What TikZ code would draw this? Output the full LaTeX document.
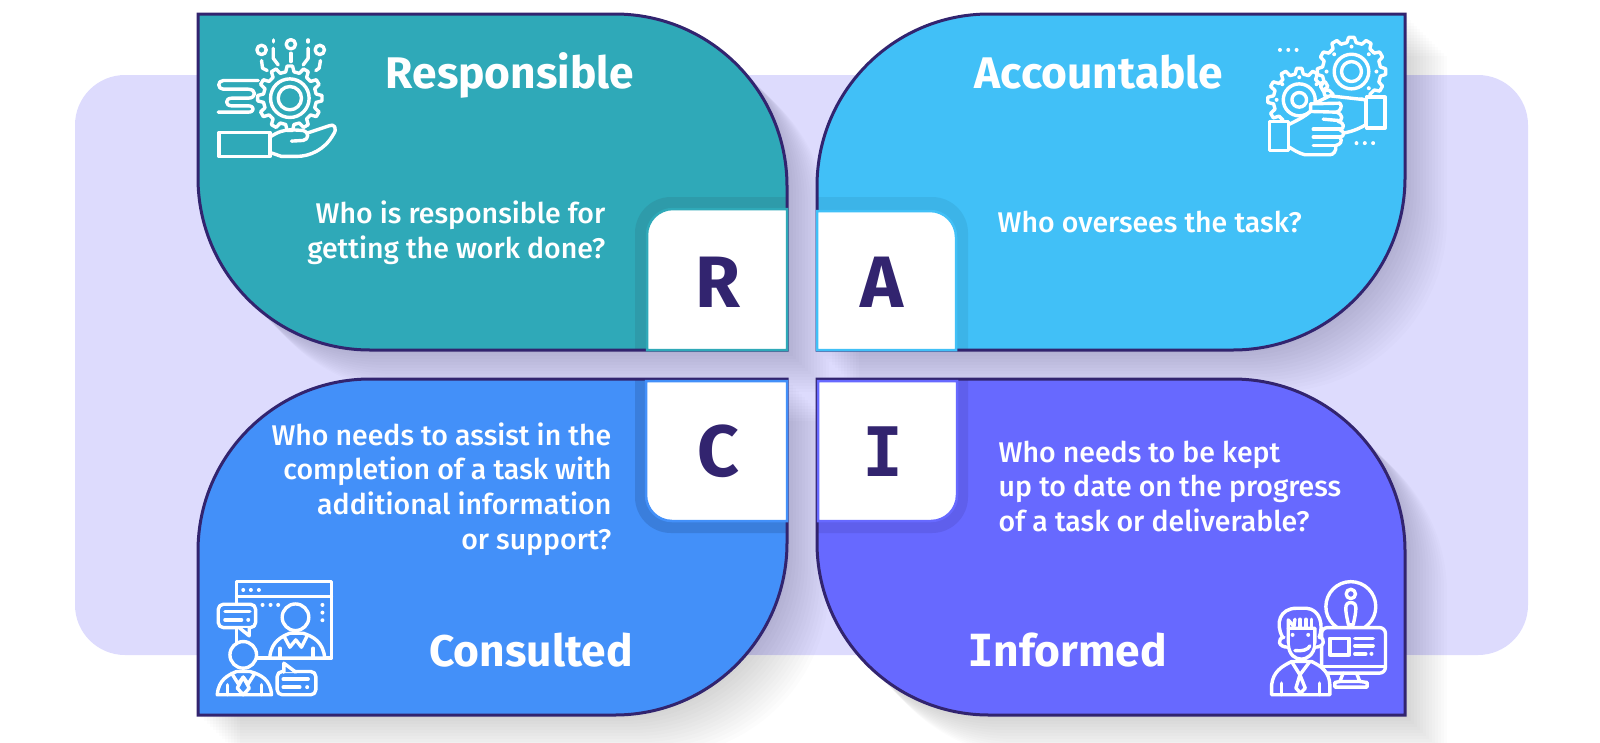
\documentclass[tikz,border=0pt]{standalone}
\usepackage{fontspec}
\setmainfont{Fira Sans}
\newfontfamily\mediumfont{Fira Sans Medium}
\newfontfamily\slabfont{DejaVu Sans Mono}
\definecolor{inkdark}{HTML}{32246F}
\definecolor{backlilac}{HTML}{DDDBFD}
\definecolor{tealR}{HTML}{2FA9B8}
\definecolor{skyA}{HTML}{41C0F7}
\definecolor{blueC}{HTML}{4390F9}
\definecolor{violetI}{HTML}{6769FF}
\definecolor{haloR}{HTML}{2E9BAA}
\definecolor{haloA}{HTML}{3CB4E8}
\definecolor{haloC}{HTML}{3A7EDC}
\definecolor{haloI}{HTML}{5F5FEC}
\tikzset{
  paneledge/.style={draw=inkdark, line width=0.03cm},
  softshadow/.style={fill=black, opacity=0.01},
  titletext/.style={text=white, inner sep=0pt, anchor=base, font=\fontsize{12.6}{14}\selectfont\bfseries},
  asktext/.style={text=white, inner sep=0pt, font=\fontsize{8.1}{9.82}\selectfont\mediumfont},
  lettertext/.style={text=inkdark, inner sep=0pt, anchor=base, font=\fontsize{20.7}{24}\selectfont\bfseries},
  iconline/.style={draw=white, line width=0.034cm, line cap=round, line join=round},
  zoomgrid/.style={x=0.003333cm, y=-0.003333cm},
}
\def\panelR{(198,14) [rounded corners=1.72cm] -- (787,14) [sharp corners] -- (787,350) [rounded corners=1.72cm] -- (198,350) [sharp corners] -- cycle}
\def\panelA{(817,350) [rounded corners=1.72cm] -- (817,14) [sharp corners] -- (1405,14) [rounded corners=1.72cm] -- (1405,350) [sharp corners] -- cycle}
\def\panelC{(198,715) [rounded corners=1.72cm] -- (198,379) [sharp corners] -- (787,379) [rounded corners=1.72cm] -- (787,715) [sharp corners] -- cycle}
\def\panelI{(817,379) [rounded corners=1.72cm] -- (1405,379) [sharp corners] -- (1405,715) [rounded corners=1.72cm] -- (817,715) [sharp corners] -- cycle}
% soft shadow: stacked see-through copies, moved right and down
\newcommand{\panelshadow}[1]{%
  \foreach \w in {0.03,0.06,...,0.42} {
    \fill[softshadow, xshift=\w cm, yshift=-\w cm] #1;
  }
}
% gear outline: centre x, centre y, inner radius, outer radius, teeth
\newcommand{\gearoutline}[5]{%
  \pgfmathsetmacro\gearstep{360/#5}
  \draw[iconline, shift={(#1,#2)}] (-0.3*\gearstep:#3)
    \foreach \k in {0,...,#5} {
      -- ({(\k-0.3)*\gearstep}:#3) -- ({(\k-0.16)*\gearstep}:#4)
      -- ({(\k+0.16)*\gearstep}:#4) -- ({(\k+0.3)*\gearstep}:#3)
    };
}
\begin{document}
\begin{tikzpicture}[x=0.01cm, y=-0.01cm]
\useasboundingbox (0,0) rectangle (1600,742);
\fill[backlilac] (75,75) [rounded corners=0.5cm] rectangle (1528,655);

\panelshadow{\panelR}
\panelshadow{\panelA}
\panelshadow{\panelC}
\panelshadow{\panelI}

% panels
\fill[tealR] \panelR;
\fill[skyA] \panelA;
\fill[blueC] \panelC;
\fill[violetI] \panelI;

% halos behind the tiles
\fill[haloR] (787,350) -- (635,350) [rounded corners=0.36cm] -- (635,197) [sharp corners] -- (787,197) -- cycle;
\fill[haloA] (817,350) -- (817,197) [rounded corners=0.36cm] -- (968,197) [sharp corners] -- (968,350) -- cycle;
\fill[haloC] (787,379) -- (787,533) [rounded corners=0.36cm] -- (635,533) [sharp corners] -- (635,379) -- cycle;
\fill[haloI] (817,379) -- (968,379) [rounded corners=0.36cm] -- (968,533) [sharp corners] -- (817,533) -- cycle;

\draw[paneledge] \panelR;
\draw[paneledge] \panelA;
\draw[paneledge] \panelC;
\draw[paneledge] \panelI;

% letter tiles
\draw[fill=white, draw=tealR, line width=0.025cm] (787,350) -- (647,350) [rounded corners=0.26cm] -- (647,209) [sharp corners] -- (787,209) -- cycle;
\draw[fill=white, draw=skyA, line width=0.025cm] (817,350) -- (817,211) [rounded corners=0.26cm] -- (956,211) [sharp corners] -- (956,350) -- cycle;
\draw[fill=white, draw=blueC, line width=0.025cm] (787,381) -- (787,521) [rounded corners=0.26cm] -- (646,521) [sharp corners] -- (646,381) -- cycle;
\draw[fill=white, draw=violetI, line width=0.025cm] (818,381) -- (957,381) [rounded corners=0.26cm] -- (957,521) [sharp corners] -- (818,521) -- cycle;

\node[lettertext] (letterR) at (718,307) {R};
\node[lettertext] (letterA) at (882,307) {A};
\node[lettertext] (letterC) at (718,476) {C};
\node[lettertext, font=\fontsize{19.4}{24}\selectfont\slabfont\bfseries] (letterI) at (883,476) {I};

\node[titletext] (titleR) at (510,88) {Responsible};
\node[titletext] (titleA) at (1099,88) {Accountable};
\node[titletext] (titleC) at (531,666) {Consulted};
\node[titletext] (titleI) at (1067,666) {{\slabfont I}nformed};

\node[asktext, align=right, anchor=east] (askR) at (606,233) {Who is responsible for\\getting the work done?};
\node[asktext, align=left, anchor=west] (askA) at (997,222) {Who oversees the task?};
\node[asktext, align=right, anchor=east] (askC) at (612,489) {Who needs to assist in the\\completion of a task with\\additional information\\or support?};
\node[asktext, align=left, anchor=west] (askI) at (998,486) {Who needs to be kept\\up to date on the progress\\of a task or deliverable?};

% icon R: hand and gear
\begin{scope}[shift={(190,0)}, zoomgrid]
\gearoutline{300}{295}{80}{97}{12}
\draw[iconline] (300,295) circle (35);
\draw[iconline] (300,295) circle (58);
\draw[iconline] (215,150) circle (14);
\draw[iconline] (303,133) circle (14);
\draw[iconline] (390,150) circle (14);
\draw[iconline] (250,120) -- (250,126);
\draw[iconline] (355,120) -- (355,126);
\draw[iconline] (250,145) -- (250,175) -- (265,195);
\draw[iconline] (303,160) -- (303,185);
\draw[iconline] (355,145) -- (355,175) -- (340,195);
\draw[iconline] (215,182) -- (218,205) -- (232,212);
\draw[iconline] (392,182) -- (388,205) -- (378,212);
\draw[iconline] (205,242) -- (100,242) .. controls (82,242) and (82,268) .. (100,268) -- (175,268) .. controls (200,268) and (200,295) .. (175,295) -- (125,295) .. controls (105,295) and (105,318) .. (125,318) -- (175,318) .. controls (195,318) and (195,337) .. (175,337) -- (85,337);
\draw[iconline] (87,398) rectangle (240,470);
\draw[iconline] (240,412) .. controls (265,395) and (285,390) .. (305,390) -- (340,392) .. controls (358,395) and (358,420) .. (340,422) -- (305,424);
\draw[iconline] (352,400) -- (418,378) .. controls (432,370) and (445,385) .. (430,405) .. controls (405,450) and (360,470) .. (320,470) -- (275,470) -- (240,458);
\end{scope}

% icon A: gears and handshake
\begin{scope}[shift={(1240,0)}, zoomgrid]
\gearoutline{335}{215}{88}{103}{12}
\draw[iconline] (335,215) circle (30);
\draw[iconline] (335,215) circle (52);
\gearoutline{178}{300}{78}{95}{12}
\draw[iconline] (178,300) circle (22);
\draw[iconline] (178,300) circle (48);
\foreach \p/\q in {335/140, 283/163, 387/163, 260/215, 410/215, 387/265, 178/232, 127/253, 230/253, 110/300} {
  \fill[white] (\p,\q) circle (6);
}
\foreach \p in {120,145,170} { \fill[white] (\p,150) circle (6); }
\foreach \p in {350,375,400} { \fill[white] (\p,430) circle (6); }
\draw[iconline, fill=skyA] (378,300) -- (270,288) -- (225,310) -- (225,400) -- (310,400) .. controls (340,395) and (360,385) .. (378,375) -- cycle;
\draw[iconline, fill=skyA] (380,292) rectangle (436,385);
\draw[iconline, fill=skyA] (145,375) .. controls (175,360) and (195,350) .. (212,335) -- (212,312) -- (300,310) .. controls (310,320) and (300,335) .. (290,337) .. controls (310,345) and (310,360) .. (295,365) .. controls (315,370) and (315,385) .. (300,390) .. controls (315,395) and (315,410) .. (300,412) .. controls (310,425) and (300,435) .. (288,437) .. controls (290,455) and (280,465) .. (270,465) -- (195,465) .. controls (175,460) and (160,450) .. (145,440) -- cycle;
\draw[iconline] (215,335) -- (290,337);
\draw[iconline] (250,358) -- (295,362);
\draw[iconline] (220,388) -- (300,388);
\draw[iconline] (220,412) -- (300,412);
\draw[iconline] (220,437) -- (288,437);
\draw[iconline, fill=skyA] (88,365) rectangle (145,452);
\end{scope}

% icon C: video call
\begin{scope}[shift={(190,560)}, zoomgrid]
\draw[iconline] (140,65) rectangle (425,295);
\draw[iconline] (140,110) -- (425,110);
\foreach \p in {160,183,207} { \fill[white] (\p,90) circle (6); }
\foreach \p in {218,242,265} { \fill[white] (\p,135) circle (6); }
\foreach \q in {135,158,181} { \fill[white] (398,\q) circle (6); }
\draw[iconline, fill=blueC] (240,290) .. controls (245,245) and (275,230) .. (300,220) -- (340,220) .. controls (370,230) and (400,245) .. (405,295) -- (238,295) -- cycle;
\draw[iconline, fill=blueC] (317,172) circle (40);
\draw[iconline] (282,228) -- (300,262) -- (318,240) -- (335,262) -- (352,228);
\draw[iconline] (270,265) -- (270,295);
\draw[iconline] (370,265) -- (370,295);
\draw[iconline, fill=blueC, rounded corners=0.05cm] (85,133) rectangle (197,203);
\draw[iconline, fill=blueC] (150,205) -- (178,228) -- (178,205);
\draw[iconline] (105,155) -- (180,155);
\draw[iconline] (105,180) -- (155,180);
\fill[white] (175,180) circle (6);
\draw[iconline, fill=blueC] (82,405) .. controls (85,360) and (115,345) .. (140,335) -- (180,335) .. controls (215,345) and (242,360) .. (245,405) -- cycle;
\draw[iconline, fill=blueC] (160,285) circle (40);
\draw[iconline] (125,340) -- (145,372) -- (160,352) -- (175,372) -- (195,340);
\draw[iconline] (160,352) -- (142,385) -- (160,405) -- (178,385) -- cycle;
\draw[iconline] (112,375) -- (112,405);
\draw[iconline] (215,375) -- (215,405);
\draw[iconline, fill=blueC, rounded corners=0.05cm] (262,335) rectangle (378,405);
\draw[iconline, fill=blueC] (282,337) -- (282,310) -- (318,337);
\draw[iconline] (280,358) -- (355,358);
\draw[iconline] (280,382) -- (330,382);
\fill[white] (352,382) circle (6);
\end{scope}

% icon I: agent and monitor
\begin{scope}[shift={(1240,560)}, zoomgrid]
\draw[iconline] (333,140) circle (75);
\draw[iconline] (333,102) circle (14);
\draw[iconline] (333,128) .. controls (312,128) and (316,150) .. (326,195) -- (340,195) .. controls (350,150) and (354,128) .. (333,128) -- cycle;
\draw[iconline, fill=violetI, rounded corners=0.06cm] (245,203) rectangle (437,340);
\draw[iconline] (245,320) -- (437,320);
\draw[iconline] (310,340) -- (300,365) -- (360,365) -- (350,340);
\draw[iconline] (300,365) -- (285,368) -- (285,382) -- (382,382) -- (382,368) -- (360,365);
\draw[iconline] (270,235) rectangle (328,285);
\draw[iconline] (345,235) -- (400,235);
\draw[iconline] (345,258) -- (400,258);
\draw[iconline] (345,282) -- (378,282);
\fill[white] (395,282) circle (6);
\draw[iconline, fill=violetI] (95,405) -- (95,375) .. controls (100,335) and (125,320) .. (155,305) -- (215,305) .. controls (245,320) and (268,335) .. (270,375) -- (270,405) -- cycle;
\draw[iconline] (155,305) -- (180,345) -- (210,305);
\draw[iconline] (180,345) -- (168,385) -- (182,400) -- (196,385) -- cycle;
\draw[iconline] (125,370) -- (125,405);
\draw[iconline] (238,370) -- (238,405);
\draw[iconline, fill=violetI] (145,205) -- (225,205) -- (225,255) .. controls (222,285) and (200,298) .. (185,298) .. controls (165,298) and (148,285) .. (145,255) -- cycle;
\draw[iconline, fill=violetI] (132,232) .. controls (112,235) and (112,262) .. (145,262);
\draw[iconline, fill=violetI] (238,232) .. controls (258,235) and (255,262) .. (225,262);
\draw[iconline] (128,232) .. controls (105,190) and (120,145) .. (170,145) -- (200,145) .. controls (240,148) and (252,195) .. (238,232);
\draw[iconline] (145,205) -- (145,180) -- (162,200) -- (165,178);
\draw[iconline] (180,178) -- (180,205);
\draw[iconline] (198,178) -- (198,205);
\draw[iconline] (215,178) -- (215,205);
\fill[white] (158,225) circle (6);
\fill[white] (205,225) circle (6);
\draw[iconline] (165,272) .. controls (185,275) and (205,270) .. (210,258);
\end{scope}
\end{tikzpicture}
\end{document}
